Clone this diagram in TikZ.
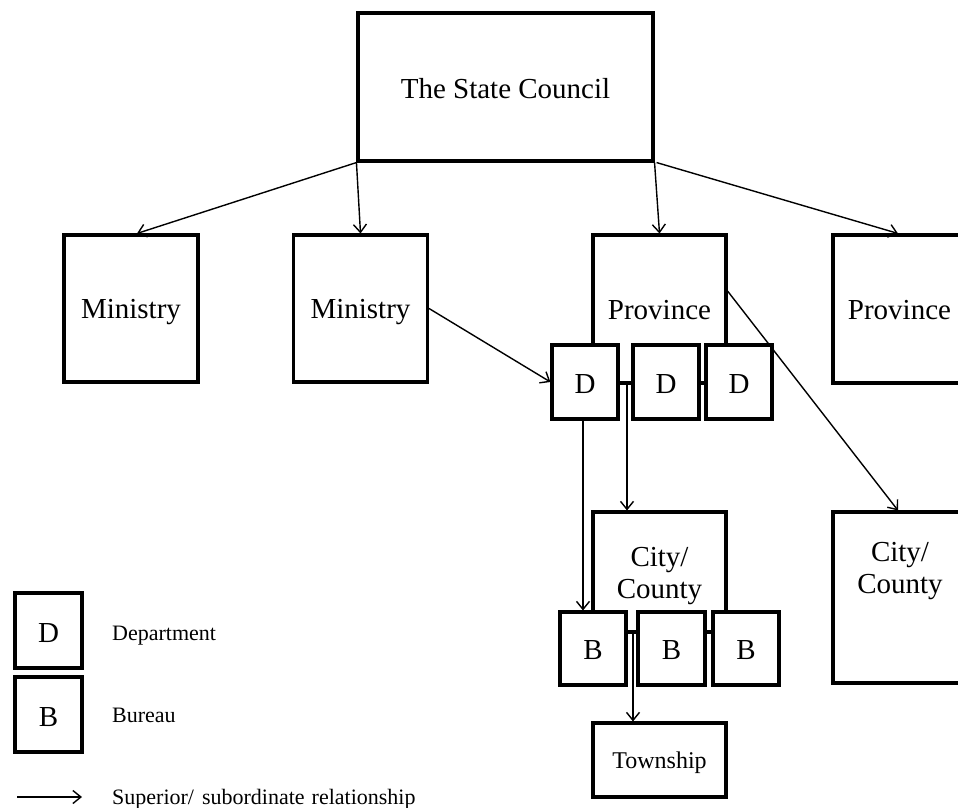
\documentclass[tikz,border=0pt]{standalone}
\usepackage{fontspec}
\setmainfont{Liberation Serif}
\usetikzlibrary{arrows.meta}
\newcommand\twoline[2]{\smash{#1}\rule{0pt}{20pt}\\\smash{#2}\rule{0pt}{20pt}}
\begin{document}
\begin{tikzpicture}[x=1pt,y=-1pt,
  box/.style={draw, line width=3.1pt, fill=white, inner sep=0pt, line join=miter,
    font=\fontsize{29}{32}\selectfont, align=center},
  one/.style={text height=20pt, text depth=0pt},
  arr/.style={line width=1.4pt, -{Straight Barb[length=8pt,width=13pt,line width=1.4pt]}},
  legtext/.style={anchor=base west, inner sep=0pt, font=\fontsize{22}{26}\selectfont}]
\useasboundingbox (0,0) rectangle (958,808);
% top level
\node[box, one, minimum width=295pt, minimum height=148pt, text height=22pt] (SC) at (505.5,87) {The State Council};
\node[box, one, minimum width=134pt, minimum height=147pt] (M1) at (131,308.5) {Ministry};
\node[box, one, minimum width=134pt, minimum height=147pt] (M2) at (360.5,308.5) {Ministry};
\node[box, one, minimum width=133pt, minimum height=148pt] (P) at (659.5,309) {Province};
\node[box, one, minimum width=133pt, minimum height=148pt] (P2) at (899.5,309) {Province};
% departments
\node[box, one, minimum width=66pt, minimum height=74pt, text height=22pt] (D1) at (585,382) {D};
\node[box, one, minimum width=66pt, minimum height=74pt, text height=22pt] (D2) at (666,382) {D};
\node[box, one, minimum width=66pt, minimum height=74pt, text height=22pt] (D3) at (739,382) {D};
% city / county
\node[box, minimum width=133pt, minimum height=120pt] (C) at (659.5,572) {\twoline{City/}{County}};
\node[box, minimum width=133pt, minimum height=171pt] (C2) at (899.5,597.5) {};
\node[inner sep=0pt, align=center, font=\fontsize{29}{32}\selectfont] (C2t) at (900,567) {\twoline{City/}{County}};
% bureaus
\node[box, one, minimum width=66pt, minimum height=73pt, text height=21pt] (B1) at (593,648.5) {B};
\node[box, one, minimum width=67pt, minimum height=73pt, text height=21pt] (B2) at (671.5,648.5) {B};
\node[box, one, minimum width=66pt, minimum height=73pt, text height=21pt] (B3) at (746,648.5) {B};
% township
\node[box, minimum width=133pt, minimum height=74pt, text height=16pt, text depth=0pt,
  font=\fontsize{24}{28}\selectfont] (T) at (659.5,760) {Township};
% legend
\node[box, one, minimum width=67pt, minimum height=75pt, text height=23pt] (LD) at (48.5,630.5) {D};
\node[box, one, minimum width=67pt, minimum height=75pt, text height=23pt] (LB) at (48.5,714.5) {B};
\node[legtext] (LDt) at (112,640) {Department};
\node[legtext] (LBt) at (112,722) {Bureau};
\coordinate (LA1) at (17,797);
\coordinate (LA2) at (82,797);
\node[legtext] (LAt) at (112,804) {Superior/\hspace{8pt}subordinate\hspace{7pt}relationship};
% connectors
\draw[arr] (SC.south west) -- ([xshift=6pt]M1.north);
\draw[arr] (SC.south west) -- (M2.north);
\draw[arr] (SC.south east) -- (P.north);
\draw[arr] ([xshift=2pt]SC.south east) -- ([xshift=-1.5pt]P2.north);
\draw[arr] (M2.east) -- (D1.west);
\draw[arr] ([yshift=18pt]P.east) -- ([xshift=-1.5pt]C2.north);
\draw[arr] ([xshift=-32.5pt]P.south) -- ([xshift=-32.5pt]C.north);
\draw[arr] ([xshift=-2pt]D1.south) -- ([xshift=-10pt]B1.north);
\draw[arr] ([xshift=-26.5pt]C.south) -- ([xshift=-26.5pt]T.north);
\draw[arr] (LA1) -- (LA2);
\end{tikzpicture}
\end{document}
